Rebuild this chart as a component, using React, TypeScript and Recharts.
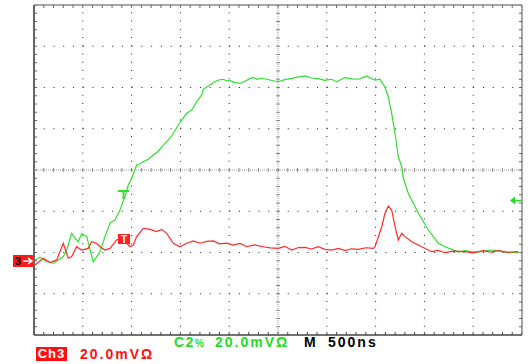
import React from 'react';
import { ComposedChart, Line, Scatter, XAxis, YAxis, ReferenceLine } from 'recharts';

// Time in ns (500 ns/div, centre = 0), voltage in mV (20 mV/div, centre = 0)
const CH2_T = [-2490, -2439, -2370, -2302, -2251, -2200, -2165, -2114, -2080, -2046, -2011, -1960, -1892, -1824, -1773, -1721, -1670, -1619, -1568, -1534, -1499, -1448, -1414, -1380, -1330, -1278, -1230, -1175, -1107, -1073, -1021, -987, -935, -884, -833, -782, -765, -714, -663, -612, -560, -526, -492, -440, -389, -338, -287, -250, -218, -170, -116, -60, 3, 70, 140, 200, 277, 340, 413, 480, 550, 601, 650, 687, 750, 823, 870, 909, 950, 994, 1045, 1096, 1130, 1165, 1199, 1233, 1267, 1284, 1335, 1438, 1540, 1643, 1711, 1780, 1850, 1916, 2000, 2087, 2170, 2257, 2350, 2462];
const CH2_V = [-43.6, -42.3, -44.5, -45.2, -43.6, -42.0, -38.8, -30.7, -33.1, -34.8, -30.7, -32.3, -44.5, -39.6, -32.3, -25.8, -24.2, -19.4, -12.9, -7.3, -4.0, 2.4, 3.0, 4.0, 5.2, 7.3, 9.0, 12.1, 15.4, 17.8, 21.8, 24.2, 27.5, 29.1, 33.1, 36.4, 39.1, 40.7, 42.3, 43.6, 44.0, 43.2, 43.3, 42.4, 42.0, 43.0, 44.4, 44.9, 44.0, 44.6, 44.0, 43.4, 42.8, 43.8, 44.4, 45.0, 45.6, 44.6, 44.3, 43.5, 44.0, 42.7, 44.0, 44.9, 44.2, 44.0, 44.8, 45.6, 44.5, 43.6, 44.0, 40.1, 35.5, 27.5, 17.8, 6.4, 1.6, -4.0, -11.3, -21.0, -29.1, -35.5, -37.2, -38.5, -39.8, -39.1, -39.8, -39.6, -38.8, -39.1, -39.9, -40.1];

const CH3_T = [-2490, -2405, -2336, -2267, -2200, -2149, -2114, -2063, -2011, -1944, -1909, -1858, -1824, -1773, -1721, -1653, -1601, -1516, -1483, -1448, -1380, -1311, -1243, -1192, -1140, -1073, -1004, -935, -868, -799, -730, -663, -600, -526, -458, -390, -321, -240, -151, -80, 3, 70, 140, 210, 277, 345, 413, 480, 550, 620, 687, 750, 823, 900, 977, 994, 1063, 1096, 1130, 1165, 1199, 1233, 1267, 1301, 1370, 1472, 1575, 1640, 1711, 1800, 1916, 2000, 2100, 2180, 2257, 2350, 2462];
const CH3_V = [-46.1, -42.8, -44.9, -43.6, -35.5, -42.8, -42.0, -37.2, -38.8, -38.0, -34.8, -35.5, -37.2, -38.8, -38.0, -33.9, -33.1, -37.2, -36.4, -32.3, -28.3, -28.8, -29.9, -28.8, -30.7, -35.5, -37.2, -35.5, -34.4, -35.5, -34.6, -34.4, -35.8, -35.5, -36.4, -35.6, -37.2, -36.3, -37.2, -37.8, -38.0, -37.0, -38.8, -37.6, -37.5, -38.3, -37.2, -38.5, -38.8, -38.0, -39.1, -38.2, -38.5, -37.7, -38.0, -37.2, -27.5, -21.0, -17.5, -19.4, -27.5, -33.9, -30.7, -32.3, -34.8, -37.2, -39.6, -39.0, -40.1, -39.3, -39.6, -40.2, -39.1, -39.8, -39.1, -39.9, -39.6];

const GRID_T = [-2000, -1500, -1000, -500, 500, 1000, 1500, 2000];
const GRID_V = [-60, -40, -20, 20, 40, 60];
const MINOR_T = [-2500, -2400, -2300, -2200, -2100, -2000, -1900, -1800, -1700, -1600, -1500, -1400, -1300, -1200, -1100, -1000, -900, -800, -700, -600, -500, -400, -300, -200, -100, 0, 100, 200, 300, 400, 500, 600, 700, 800, 900, 1000, 1100, 1200, 1300, 1400, 1500, 1600, 1700, 1800, 1900, 2000, 2100, 2200, 2300, 2400, 2500];
const MINOR_V = [-80, -76, -72, -68, -64, -60, -56, -52, -48, -44, -40, -36, -32, -28, -24, -20, -16, -12, -8, -4, 0, 4, 8, 12, 16, 20, 24, 28, 32, 36, 40, 44, 48, 52, 56, 60, 64, 68, 72, 76, 80];

const ch2 = CH2_T.map((t, i) => ({ t, v: CH2_V[i] }));
const ch3 = CH3_T.map((t, i) => ({ t, v: CH3_V[i] }));
const bottomTicks = MINOR_T.map((t) => ({ t, v: -80 }));
const topTicks = MINOR_T.map((t) => ({ t, v: 80 }));
const leftTicks = MINOR_V.map((v) => ({ t: -2500, v }));
const rightTicks = MINOR_V.map((v) => ({ t: 2500, v }));
const hCenterTicks = MINOR_T.map((t) => ({ t, v: 0 }));
const vCenterTicks = MINOR_V.map((v) => ({ t: 0, v }));

const mk = (dx1: number, dy1: number, dx2: number, dy2: number, color: string) => (p: any) => (
  <line x1={p.cx + dx1} y1={p.cy + dy1} x2={p.cx + dx2} y2={p.cy + dy2} stroke={color} strokeWidth={1} />
);

const GREEN = '#2ee02e';
const RED = '#ff2a2a';
const font = '"Liberation Sans", Arial, sans-serif';

export default function App() {
  return (
    <div style={{ position: 'absolute', left: 0, top: 0, width: 531, height: 364, background: '#fff', fontFamily: font }}>
      <ComposedChart width={531} height={364} margin={{ top: 5, right: 9, bottom: 29, left: 34 }}>
        <XAxis type="number" dataKey="t" domain={[-2500, 2500]} hide allowDataOverflow />
        <YAxis type="number" dataKey="v" domain={[-80, 80]} hide allowDataOverflow />
        {GRID_T.map((t) => (
          <ReferenceLine key={'gt' + t} x={t} stroke="#222" strokeDasharray="1 7.25" />
        ))}
        {GRID_V.map((v) => (
          <ReferenceLine key={'gv' + v} y={v} stroke="#222" strokeDasharray="1 8.76" />
        ))}
        <ReferenceLine x={0} stroke="#999" strokeDasharray="1 1" />
        <ReferenceLine y={0} stroke="#999" strokeDasharray="1 1" />
        <ReferenceLine x={-2500} stroke="#666" strokeWidth={2} />
        <ReferenceLine x={2500} stroke="#888" strokeWidth={1.5} />
        <ReferenceLine y={80} stroke="#888" strokeWidth={1.5} />
        <ReferenceLine y={-80} stroke="#444" strokeWidth={1.5} />
        <Scatter data={bottomTicks} isAnimationActive={false} shape={mk(0, 0, 0, -3, '#444')} />
        <Scatter data={topTicks} isAnimationActive={false} shape={mk(0, 0, 0, 3, '#666')} />
        <Scatter data={leftTicks} isAnimationActive={false} shape={mk(0, 0, 3, 0, '#666')} />
        <Scatter data={rightTicks} isAnimationActive={false} shape={mk(0, 0, -3, 0, '#666')} />
        <Scatter data={hCenterTicks} isAnimationActive={false} shape={mk(0, -2, 0, 2, '#888')} />
        <Scatter data={vCenterTicks} isAnimationActive={false} shape={mk(-2, 0, 2, 0, '#888')} />
        <Line data={ch2} dataKey="v" type="linear" stroke={GREEN} strokeWidth={1.2} dot={false} isAnimationActive={false} />
        <Line data={ch3} dataKey="v" type="linear" stroke={RED} strokeWidth={1.2} dot={false} isAnimationActive={false} />
      </ComposedChart>

      {/* markers */}
      <svg width={531} height={364} style={{ position: 'absolute', left: 0, top: 0, pointerEvents: 'none' }}>
        <rect x={13} y={255} width={20} height={12} fill="#ff1a1a" />
        <text x={15} y={265} fontSize={11} fontWeight="bold" fill="#000" fontFamily={font}>3</text>
        <line x1={23} y1={261} x2={31} y2={261} stroke="#fff" strokeWidth={1.5} />
        <path d="M28,258 L32,261 L28,264" fill="none" stroke="#fff" strokeWidth={1.5} />
        <rect x={118} y={234} width={12} height={10} fill="#ff2020" />
        <text x={124} y={243} fontSize={10} fontWeight="bold" fill="#fff" textAnchor="middle" fontFamily={font}>T</text>
        <line x1={118} y1={191} x2={129} y2={191} stroke={GREEN} strokeWidth={2} />
        <line x1={123.5} y1={191} x2={123.5} y2={199} stroke={GREEN} strokeWidth={2} />
        <path d="M510,200.5 L515,196.5 L515,204.5 Z" fill="#22dd22" />
        <line x1={514} y1={200.5} x2={521} y2={200.5} stroke="#22dd22" strokeWidth={1.5} />
      </svg>

      <div style={{ position: 'absolute', left: 174, top: 334, color: '#22dd22', fontSize: 14, fontWeight: 'bold', letterSpacing: 1.5, whiteSpace: 'nowrap', lineHeight: '16px' }}>
        C2<span style={{ fontSize: 10 }}>%</span>
      </div>
      <div style={{ position: 'absolute', left: 215, top: 334, color: '#22dd22', fontSize: 14, fontWeight: 'bold', letterSpacing: 2, whiteSpace: 'nowrap', lineHeight: '16px' }}>20.0mVΩ</div>
      <div style={{ position: 'absolute', left: 304, top: 334, color: '#000', fontSize: 14, fontWeight: 'bold', letterSpacing: 2, whiteSpace: 'nowrap', lineHeight: '16px' }}>M</div>
      <div style={{ position: 'absolute', left: 328, top: 334, color: '#000', fontSize: 14, fontWeight: 'bold', letterSpacing: 2, whiteSpace: 'nowrap', lineHeight: '16px' }}>500ns</div>
      <div style={{ position: 'absolute', left: 36, top: 347, width: 31, height: 14, background: '#ff1010', color: '#fff', fontSize: 13, fontWeight: 'bold', lineHeight: '14px', textAlign: 'center', letterSpacing: 1 }}>Ch3</div>
      <div style={{ position: 'absolute', left: 80, top: 346, color: '#ff1010', fontSize: 14, fontWeight: 'bold', letterSpacing: 2, whiteSpace: 'nowrap', lineHeight: '16px' }}>20.0mVΩ</div>
    </div>
  );
}
